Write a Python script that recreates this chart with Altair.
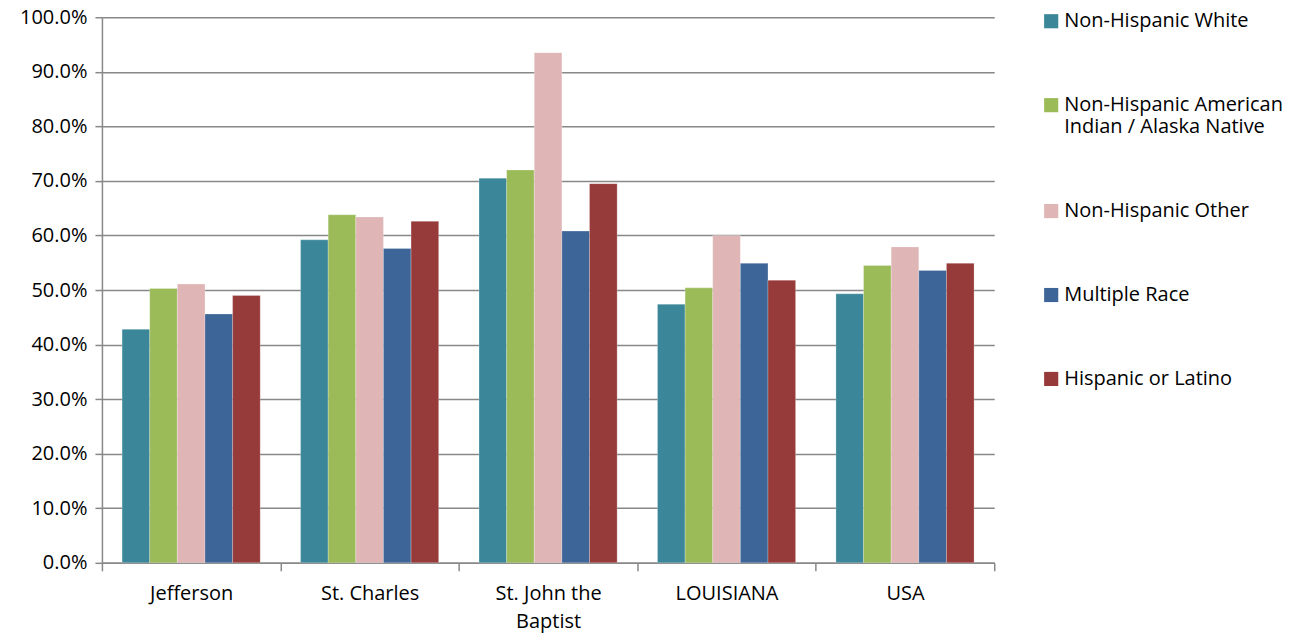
import altair as alt
import pandas as pd

places = ["Jefferson", "St. Charles", "St. John the\nBaptist", "LOUISIANA", "USA"]
groups = ["Non-Hispanic White", "Non-Hispanic American\nIndian / Alaska Native",
          "Non-Hispanic Other", "Multiple Race", "Hispanic or Latino"]
colors = ["#3B8799", "#9BBB59", "#DFB5B5", "#3D6598", "#963B3A"]

nh_white = [0.428, 0.592, 0.705, 0.474, 0.493]
nh_aian = [0.503, 0.638, 0.720, 0.504, 0.545]
nh_other = [0.511, 0.634, 0.935, 0.600, 0.579]
multiple = [0.456, 0.576, 0.608, 0.549, 0.536]
hispanic = [0.490, 0.626, 0.695, 0.518, 0.549]

series = [nh_white, nh_aian, nh_other, multiple, hispanic]
rows = []
for g, vals in zip(groups, series):
    for p, v in zip(places, vals):
        rows.append({"place": p, "group": g, "value": v})
df = pd.DataFrame(rows)

FONT = "Open Sans"
FS = 20

chart = alt.Chart(df).mark_bar(stroke="white", strokeWidth=0.4, strokeOpacity=0.6).encode(
    x=alt.X("place:N", sort=places, title=None,
            scale=alt.Scale(paddingInner=0, paddingOuter=0),
            axis=alt.Axis(labelAngle=0, tickBand="extent", tickSize=8,
                          labelExpr="split(datum.label, '\\n')",
                          labelLineHeight=28, labelPadding=13,
                          domainColor="#888888", tickColor="#888888",
                          domainWidth=1.5, tickWidth=1.5, grid=False)),
    xOffset=alt.XOffset("group:N", sort=groups,
                        scale=alt.Scale(paddingInner=0, paddingOuter=0.73)),
    y=alt.Y("value:Q", title=None,
            scale=alt.Scale(domain=[0, 1], nice=False),
            axis=alt.Axis(format=".1%", values=[i / 10 for i in range(11)],
                          tickSize=7, labelPadding=8, domainColor="#888888",
                          tickColor="#888888", gridColor="#888888",
                          domainWidth=1.5, tickWidth=1.5, gridWidth=1.5)),
    color=alt.Color("group:N", sort=groups,
                    scale=alt.Scale(domain=groups, range=colors),
                    legend=alt.Legend(title=None, orient="none", legendX=940, legendY=-6,
                                      symbolType="square", symbolSize=200,
                                      symbolStrokeWidth=0, labelFontSize=FS,
                                      labelExpr="split(datum.label, '\\n')",
                                      rowPadding=64,
                                      labelLimit=400, labelOffset=3)),
).properties(
    width=893, height=546,
    autosize=alt.AutoSizeParams(type="none"),
    padding={"left": 94, "top": 9, "right": 300, "bottom": 72},
).configure_axis(
    labelFont=FONT, labelFontSize=FS, labelColor="#000000",
).configure_legend(
    labelFont=FONT, labelColor="#000000",
).configure_view(stroke=None)

chart.save("out.html", embed_options={"renderer": "svg", "actions": False})
